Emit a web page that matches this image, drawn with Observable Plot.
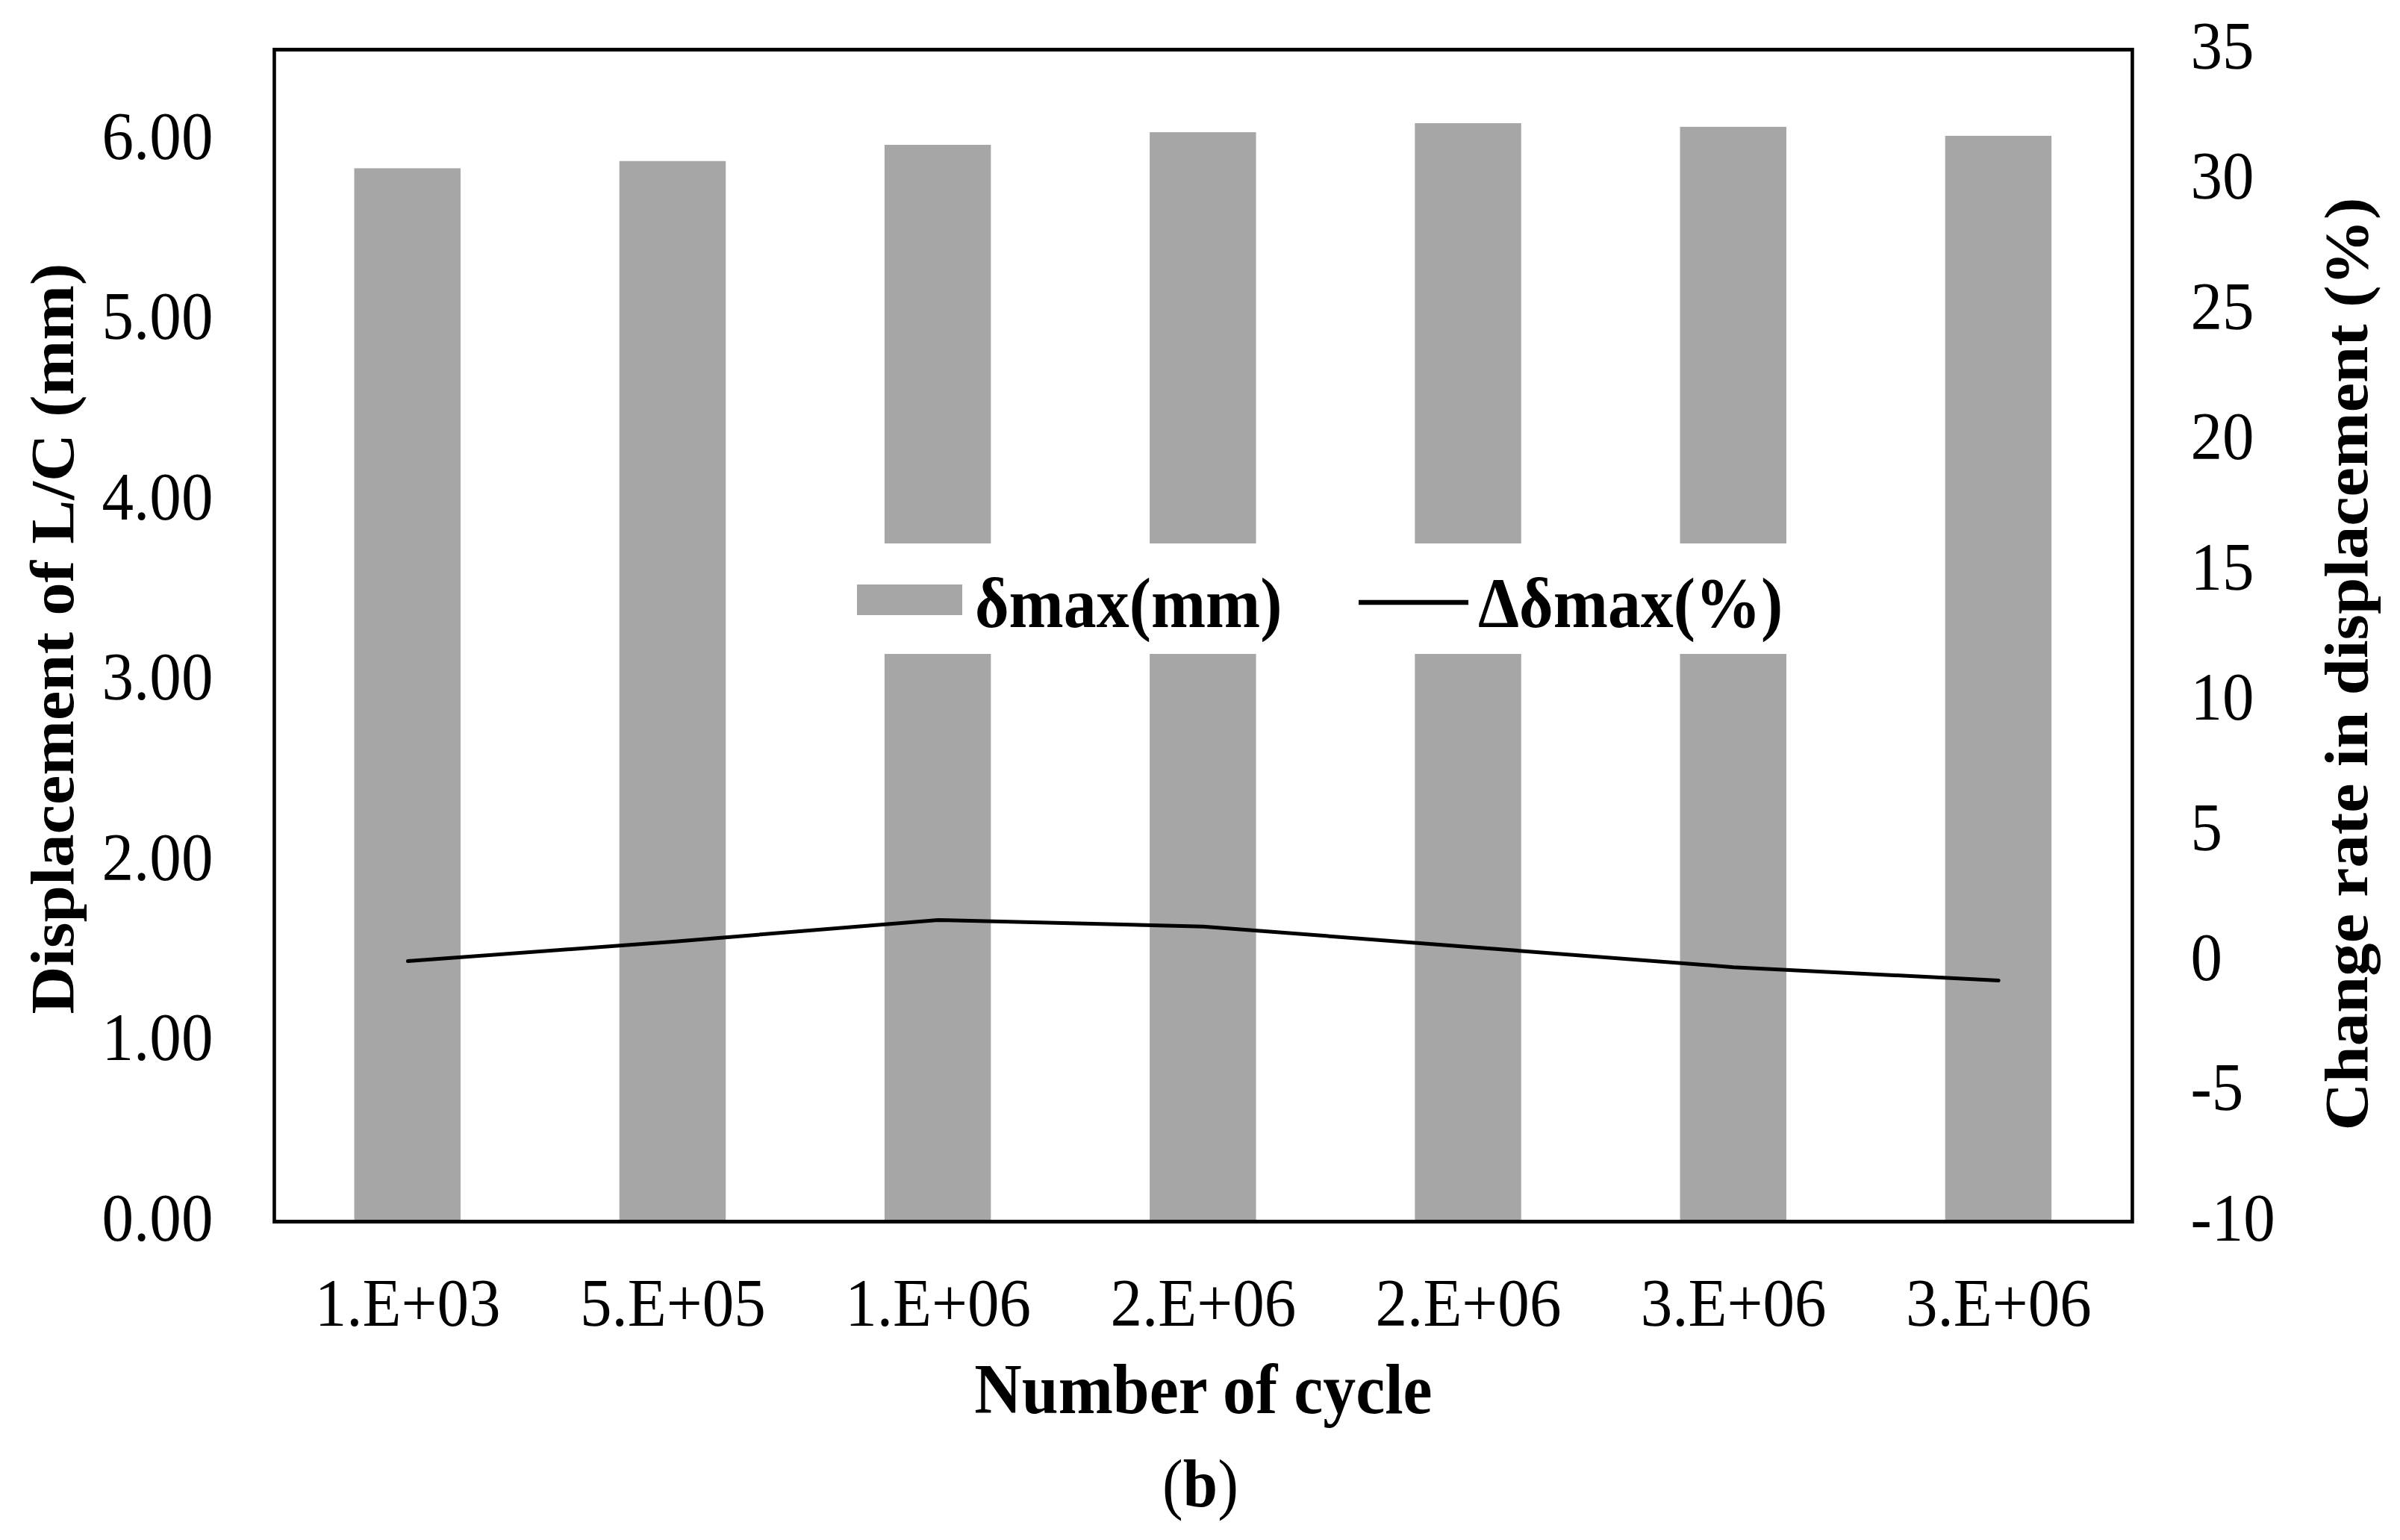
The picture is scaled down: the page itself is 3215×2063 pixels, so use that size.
<!DOCTYPE html>
<html>
<head>
<meta charset="utf-8">
<script src="https://cdn.jsdelivr.net/npm/d3@7"></script>
<script src="https://cdn.jsdelivr.net/npm/@observablehq/plot@0.6"></script>
<style>
  html, body { margin: 0; background: #fff; overflow: hidden; }
  #wrap { position: relative; width: 3215px; height: 2063px; overflow: hidden; background: #fff;
          font-family: "Liberation Serif", "Times New Roman", serif; }
  #wrap svg { display: block; }
  .overlay { position: absolute; left: 0; }
</style>
</head>
<body>
<div id="wrap"></div>
<script>
// ---- data ----
const cycles = ["1.E+03", "5.E+05", "1.E+06", "2.E+06", "2.E+06", "3.E+06", "3.E+06"];
const deltaMax = [5.84, 5.88, 5.97, 6.04, 6.09, 6.07, 6.02];      // δmax (mm), left axis
const changeRate = [0, 0.75, 1.58, 1.33, 0.55, -0.23, -0.74];     // Δδmax (%), right axis
const leftTicks = [0, 1, 2, 3, 4, 5, 6];
const rightTicks = [-10, -5, 0, 5, 10, 15, 20, 25, 30, 35];
const leftDomain = [0, 6.5];
const rightDomain = [-10, 35];
const legendLabels = ["δmax(mm)", "Δδmax(%)"];
const xTitle = "Number of cycle";
const yLeftTitle = "Displacement of L/C (mm)";
const yRightTitle = "Change rate in displacement (%)";
const captionLetter = "b";

// ---- helpers ----
const toLeft = v => leftDomain[0] + (v - rightDomain[0]) / (rightDomain[1] - rightDomain[0]) * (leftDomain[1] - leftDomain[0]);
const fromLeft = v => rightDomain[0] + (v - leftDomain[0]) / (leftDomain[1] - leftDomain[0]) * (rightDomain[1] - rightDomain[0]);
const idx = cycles.map((c, i) => i);
const bars = idx.map(i => ({i, v: deltaMax[i]}));
const pts = idx.map(i => ({i, r: changeRate[i]}));

// The reference figure is slightly narrow-set: draw in a wider logical space and compress horizontally.
const K = 0.925;
const L = x => x / K;
const W = 3215, H = 1930;
const WL = L(W);
const FONT = '"Liberation Serif", "Times New Roman", serif';
const BAR = "#a6a6a6";
const TICK_FS = 92, TITLE_FS = 95, ROT_FS = 88.6;

function squeeze(svg, h) {
  svg.style.maxWidth = "none";
  svg.style.width = WL + "px";
  svg.style.height = h + "px";
  svg.style.transformOrigin = "0 0";
  svg.style.transform = `scaleX(${K})`;
  return svg;
}

const chart = Plot.plot({
  width: WL,
  height: H,
  marginTop: 66,
  marginLeft: L(367),
  marginRight: L(359),
  marginBottom: H - 1636,
  style: {fontFamily: FONT, fontSize: TICK_FS + "px", color: "black", background: "white"},
  x: {type: "band", domain: idx, paddingInner: 0.6, paddingOuter: 0.3},
  y: {domain: leftDomain},
  marks: [
    Plot.barY(bars, {x: "i", y: "v", fill: BAR}),
    Plot.line(pts, {x: "i", y: d => toLeft(d.r), stroke: "black", strokeWidth: 5}),
    Plot.frame({stroke: "black", strokeWidth: 5}),
    Plot.axisX({tickSize: 0, tickPadding: 74, tickFormat: i => cycles[i], fontSize: TICK_FS, label: null}),
    Plot.axisY(leftTicks, {anchor: "left", tickSize: 0, tickPadding: L(82), dy: -4,
      tickFormat: d => d.toFixed(2), fontSize: TICK_FS, label: null}),
    Plot.axisY(rightTicks.map(toLeft), {anchor: "right", tickSize: 0, tickPadding: L(78), dy: -4,
      tickFormat: d => String(Math.round(fromLeft(d))), fontSize: TICK_FS, label: null}),
    Plot.text([xTitle], {text: d => d, frameAnchor: "bottom", dy: 257, lineAnchor: "bottom",
      textAnchor: "middle", fontWeight: "bold", fontSize: TITLE_FS}),
    Plot.text([yLeftTitle], {text: d => d, frameAnchor: "left", dx: L(71) - L(367), dy: 4, rotate: -90,
      textAnchor: "middle", lineAnchor: "middle", fontWeight: "bold", fontSize: ROT_FS}),
    Plot.text([yRightTitle], {text: d => d, frameAnchor: "right", dx: L(3144) - L(2856), dy: 38, rotate: -90,
      textAnchor: "middle", lineAnchor: "middle", fontWeight: "bold", fontSize: ROT_FS})
  ]
});

const wrap = document.getElementById("wrap");
wrap.appendChild(squeeze(chart, H));

// ---- legend (inside the plot area, over the bars) ----
const ns = "http://www.w3.org/2000/svg";
function el(tag, attrs, parent) {
  const e = document.createElementNS(ns, tag);
  for (const k in attrs) e.setAttribute(k, attrs[k]);
  if (parent) parent.appendChild(e);
  return e;
}
const leg = el("svg", {width: WL, height: H, class: "overlay"});
leg.style.top = "0px";
leg.style.pointerEvents = "none";
el("rect", {x: L(1110), y: 728, width: L(1310), height: 148, fill: "white"}, leg);
el("rect", {x: L(1148), y: 783, width: L(141), height: 41, fill: BAR}, leg);
const t1 = el("text", {x: L(1306), y: 840, "font-family": FONT, "font-size": TITLE_FS, "font-weight": "bold", fill: "black"}, leg);
t1.textContent = legendLabels[0];
el("line", {x1: L(1820), x2: L(1967), y1: 807, y2: 807, stroke: "black", "stroke-width": 6.5}, leg);
const t2 = el("text", {x: L(1980), y: 840, "font-family": FONT, "font-size": TITLE_FS, "font-weight": "bold", fill: "black"}, leg);
t2.textContent = legendLabels[1];
wrap.appendChild(squeeze(leg, H));

// ---- caption below the chart ----
const CH = 2063 - H;
const cap = el("svg", {width: WL, height: CH, class: "overlay"});
cap.style.top = H + "px";
const ct = el("text", {x: L(1608), y: 2018 - H, "text-anchor": "middle", "font-family": FONT, "font-size": 90, fill: "black"}, cap);
ct.appendChild(document.createTextNode("("));
const b = el("tspan", {"font-weight": "bold"}, ct);
b.textContent = captionLetter;
ct.appendChild(document.createTextNode(")"));
wrap.appendChild(squeeze(cap, CH));
</script>
</body>
</html>
